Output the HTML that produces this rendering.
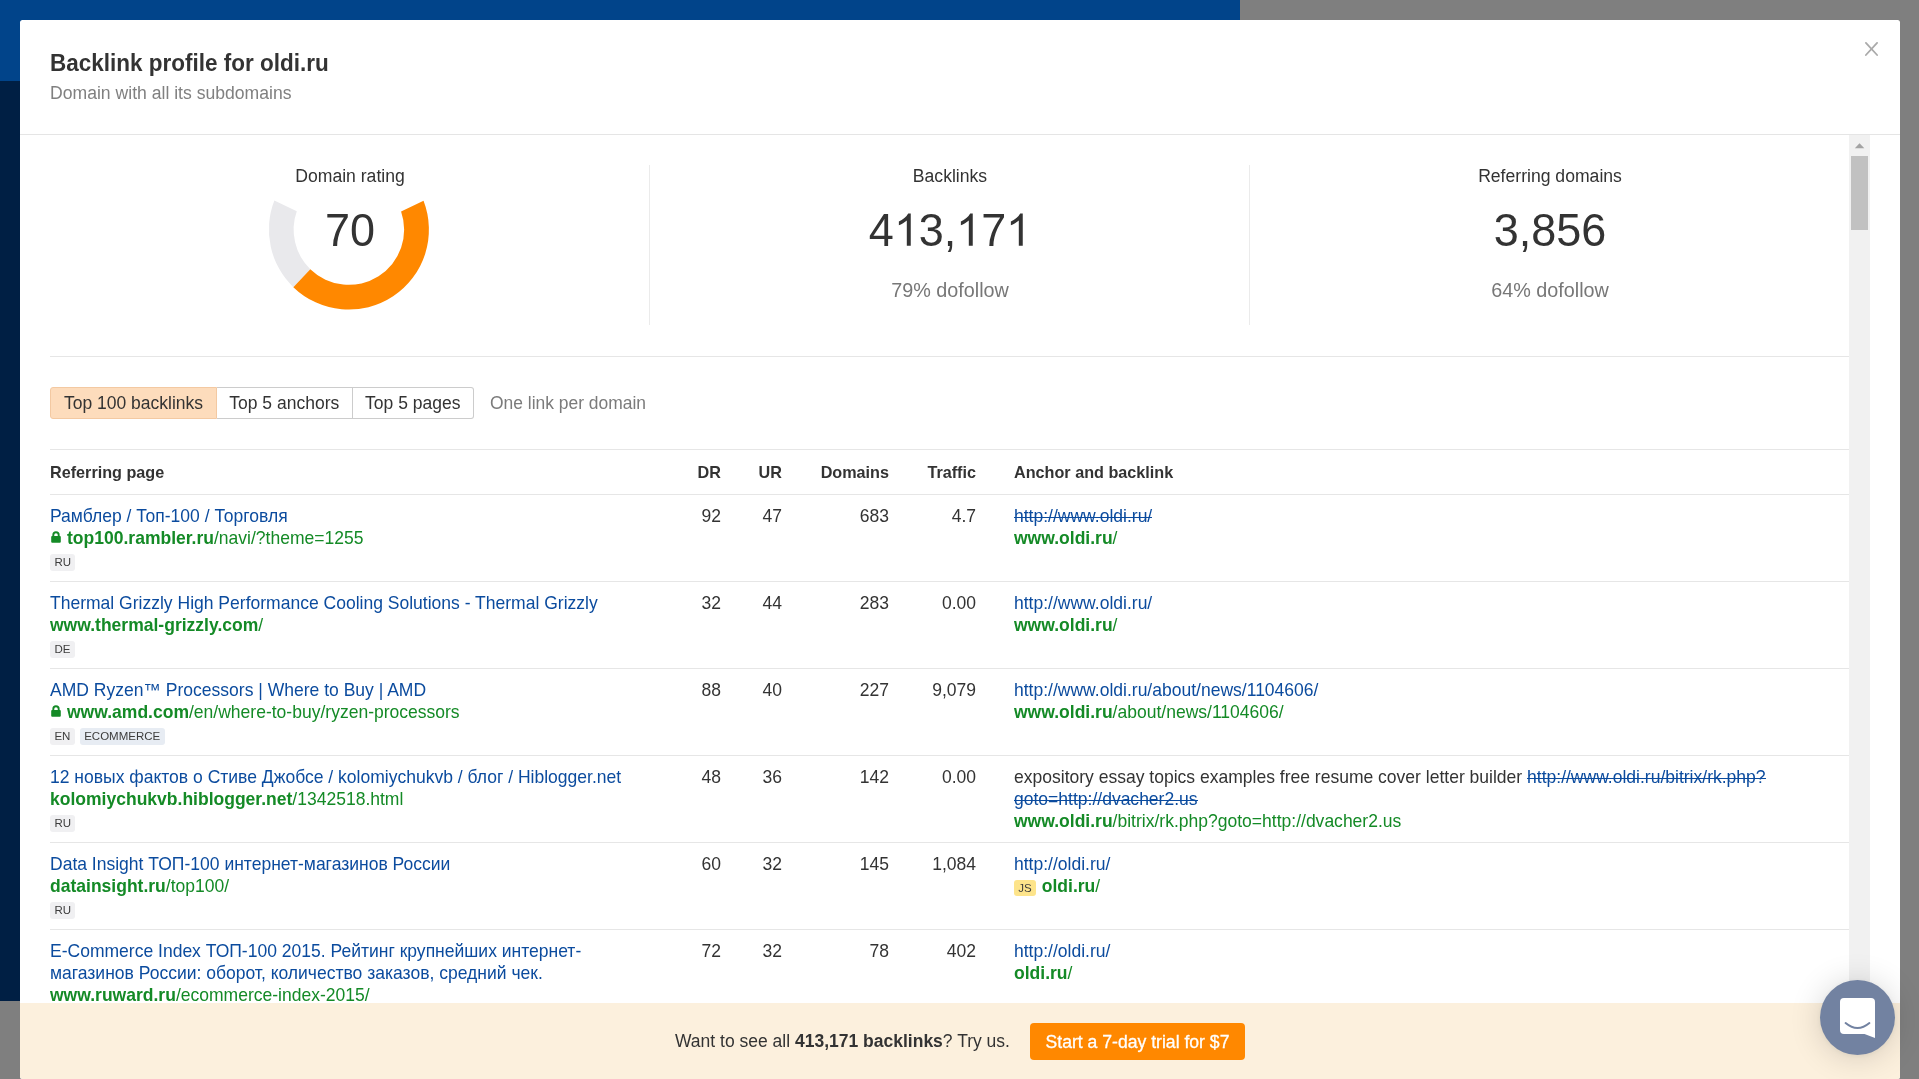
<!DOCTYPE html>
<html><head><meta charset="utf-8">
<style>
*{box-sizing:border-box;margin:0;padding:0}
html,body{width:1919px;height:1079px;overflow:hidden;background:#7f7f7f;font-family:"Liberation Sans",sans-serif;color:#333}
.abs{position:absolute}
#bgblue{left:0;top:0;width:1240px;height:81px;background:#01448a}
#bgnavy{left:0;top:81px;width:1240px;height:920px;background:#001f44}
#modal{left:20px;top:20px;width:1880px;height:1059px;background:#fff;border-radius:2.5px;overflow:hidden}
#hdr{left:0;top:0;width:1880px;height:115px;border-bottom:1px solid #e5e5e5}
#title{left:30px;top:28.8px;font-size:22.5px;line-height:30px;font-weight:bold;color:#333;white-space:nowrap;transform:scaleY(1.04);transform-origin:0 22.8px}
#sub{left:30px;top:61px;font-size:17.6px;line-height:24px;color:#808080;white-space:nowrap}
#close{left:1844px;top:21px;width:16px;height:16px}
/* content coordinates are relative to modal (x-20,y-20) */
.lbl,.num,.sub2{width:600px;text-align:center;white-space:nowrap}
.lbl{top:144.3px;font-size:17.6px;line-height:24px;color:#333}
.num{top:186.2px;font-size:45px;line-height:50px;color:#333}
.num{transform:scaleY(1.04);transform-origin:50% 40.59px}
.one{position:relative;color:transparent}
.one svg{position:absolute;left:0;top:0;width:0.55615em;height:1.1172em}
.sub2{top:258.1px;font-size:19.8px;line-height:24px;color:#777}
.vdiv{top:145px;width:1px;height:160px;background:#ebebeb}
.hline{height:1px;background:#e6e6e6}
#tabs{left:30px;top:367px;height:32px;display:flex;font-size:17.5px;line-height:30px;white-space:nowrap}
#tabs .t{border:1px solid #ccc;border-left:none;text-align:center;color:#333;background:#fff}
#tabs .t:first-child{border-left:1px solid #ccc;border-radius:3px 0 0 3px}
#tabs .t:last-child{border-radius:0 3px 3px 0}
#tabs .t.on{background:#fddcbc;border-color:#f3c9a2}
#onelink{left:470px;top:367px;font-size:17.45px;line-height:32px;color:#7b7b7b;white-space:nowrap}
.th{top:441.8px;font-size:16.2px;line-height:20px;font-weight:bold;color:#333;white-space:nowrap}
.row{left:30px;width:1799px;height:87px;border-bottom:1px solid #e6e6e6;font-size:17.52px;line-height:22px;white-space:nowrap}
.row .c{position:absolute;top:10px}
.row .n{text-align:right;color:#333}
.row .ttl{color:#0b4b9e}
.g{color:#148a26}
.g b{font-weight:bold}
.lock{display:inline-block;width:10px;height:12px;vertical-align:1px;margin-left:1px;margin-right:6px;position:relative}
.badge{display:inline-block;font-size:11.5px;line-height:16.5px;height:16.5px;padding:0 4.4px;background:#f0f0f2;color:#3c3c3c;border-radius:3px;margin-top:5px;vertical-align:top}
.badge.bl{background:#e7ecf3}
.badge.js{background:#fde48b;margin-top:4.5px;margin-right:6px;padding:0 4.2px;vertical-align:top}
.strike{background:linear-gradient(currentColor,currentColor) 0 11.2px/100% 1px no-repeat}
#banner{left:0;top:983px;width:1880px;height:120px;background:#fcf0dd}
#btext{left:655px;top:1009px;font-size:17.5px;line-height:24px;color:#333;white-space:nowrap}
#btn{left:1010px;top:1003px;width:215px;height:37px;background:#ff8800;border-radius:4px;color:#fff;font-size:17.6px;line-height:37px;text-align:center;white-space:nowrap;-webkit-text-stroke:0.3px #fff;padding-top:1px}
#sbtrack{left:1829px;top:115px;width:21px;height:900px;background:#f1f1f1}
#sbthumb{left:1831px;top:136px;width:17px;height:74px;background:#c1c1c1}
#launcher{left:1820px;top:980px;width:75px;height:75px;border-radius:50%;background:#7282a1;box-shadow:0 1px 6px rgba(0,0,0,.06),0 2px 32px rgba(0,0,0,.16)}
#title,#sub,.lbl,.num,.sub2,#tabs,#onelink,.th,.row,#btext,#btn{will-change:transform}
</style></head>
<body>
<div class="abs" id="bgblue"></div>
<div class="abs" id="bgnavy"></div>
<div class="abs" id="modal">
  <div class="abs" id="hdr">
    <div class="abs" id="title">Backlink profile for oldi.ru</div>
    <div class="abs" id="sub">Domain with all its subdomains</div>
    <svg class="abs" id="close" viewBox="0 0 16 16" style="left:1843px;top:21px;width:16px;height:16px"><path d="M2.9 1.9L14.1 14M14.1 1.9L2.9 14" stroke="#aaa" stroke-width="1.8" stroke-linecap="round" fill="none"/></svg>
  </div>

  <!-- stats -->
  <svg class="abs" style="left:0;top:0;width:700px;height:400px" viewBox="20 20 700 400">
    <path d="M274.36 200.54 A80 80 0 0 0 293.33 287.15 L310.31 269.14 A55.25 55.25 0 0 1 296.79 211.25 Z" fill="#e9e9ec"/>
    <path d="M293.33 287.15 A80 80 0 0 0 423.54 200.8 L401.08 211.43 A55.25 55.25 0 0 1 310.31 269.14 Z" fill="#ff8800"/>
  </svg>
  <div class="abs lbl" style="left:30px">Domain rating</div>
  <div class="abs num" style="left:30px">70</div>
  <div class="abs vdiv" style="left:629px"></div>
  <div class="abs lbl" style="left:630px">Backlinks</div>
  <div class="abs num" style="left:630px">4<span class="one">1<svg viewBox="0 0 1139 2288"><path d="M763 1854.0 L583 1854.0 L583 756.4 Q518 815.7 412 875.1 Q306 934.4 222 964.0 L222 797.5 Q373 729.6 486 632.9 Q599 536.3 646 445.4 L763 445.4 Z" fill="#333"/></svg></span>3,<span class="one">1<svg viewBox="0 0 1139 2288"><path d="M763 1854.0 L583 1854.0 L583 756.4 Q518 815.7 412 875.1 Q306 934.4 222 964.0 L222 797.5 Q373 729.6 486 632.9 Q599 536.3 646 445.4 L763 445.4 Z" fill="#333"/></svg></span>7<span class="one">1<svg viewBox="0 0 1139 2288"><path d="M763 1854.0 L583 1854.0 L583 756.4 Q518 815.7 412 875.1 Q306 934.4 222 964.0 L222 797.5 Q373 729.6 486 632.9 Q599 536.3 646 445.4 L763 445.4 Z" fill="#333"/></svg></span></div>
  <div class="abs sub2" style="left:630px">79% dofollow</div>
  <div class="abs vdiv" style="left:1229px"></div>
  <div class="abs lbl" style="left:1230px">Referring domains</div>
  <div class="abs num" style="left:1230px">3,856</div>
  <div class="abs sub2" style="left:1230px">64% dofollow</div>
  <div class="abs hline" style="left:30px;top:336px;width:1799px"></div>

  <!-- tabs -->
  <div class="abs" id="tabs">
    <div class="t on" style="width:167px">Top 100 backlinks</div><div class="t" style="width:135.5px">Top 5 anchors</div><div class="t" style="width:121.5px">Top 5 pages</div>
  </div>
  <div class="abs" id="onelink">One link per domain</div>

  <div class="abs hline" style="left:30px;top:429px;width:1799px"></div>
  <div class="abs th" style="left:30px">Referring page</div>
  <div class="abs th" style="left:650px;width:51px;text-align:right">DR</div>
  <div class="abs th" style="left:700px;width:62px;text-align:right">UR</div>
  <div class="abs th" style="left:760px;width:109px;text-align:right">Domains</div>
  <div class="abs th" style="left:870px;width:86px;text-align:right">Traffic</div>
  <div class="abs th" style="left:994px">Anchor and backlink</div>
  <div class="abs hline" style="left:30px;top:474px;width:1799px"></div>

  <div id="rows">
<div class="abs row" style="top:475px"><div class="c" style="left:0"><div class="ttl">Рамблер / Топ-100 / Торговля</div><div class="g"><svg class="lock" viewBox="0 0 10 12"><path d="M2.3 5.2V3.9A2.7 2.7 0 0 1 7.7 3.9V5.2" stroke="currentColor" stroke-width="1.9" fill="none"/><rect x="0.2" y="5" width="9.6" height="6.8" rx="1" fill="currentColor"/></svg><b>top100.rambler.ru</b>/navi/?theme=1255</div><div style="height:22px"><span class="badge ">RU</span></div></div><div class="c n" style="left:591px;width:80px">92</div><div class="c n" style="left:652px;width:80px">47</div><div class="c n" style="left:759px;width:80px">683</div><div class="c n" style="left:846px;width:80px">4.7</div><div class="c" style="left:964px"><span class="ttl strike">http://www.oldi.ru/</span><br><span class="g"><b>www.oldi.ru</b>/</span></div></div>
<div class="abs row" style="top:562px"><div class="c" style="left:0"><div class="ttl">Thermal Grizzly High Performance Cooling Solutions - Thermal Grizzly</div><div class="g"><b>www.thermal-grizzly.com</b>/</div><div style="height:22px"><span class="badge ">DE</span></div></div><div class="c n" style="left:591px;width:80px">32</div><div class="c n" style="left:652px;width:80px">44</div><div class="c n" style="left:759px;width:80px">283</div><div class="c n" style="left:846px;width:80px">0.00</div><div class="c" style="left:964px"><span class="ttl">http://www.oldi.ru/</span><br><span class="g"><b>www.oldi.ru</b>/</span></div></div>
<div class="abs row" style="top:649px"><div class="c" style="left:0"><div class="ttl">AMD Ryzen™ Processors | Where to Buy | AMD</div><div class="g"><svg class="lock" viewBox="0 0 10 12"><path d="M2.3 5.2V3.9A2.7 2.7 0 0 1 7.7 3.9V5.2" stroke="currentColor" stroke-width="1.9" fill="none"/><rect x="0.2" y="5" width="9.6" height="6.8" rx="1" fill="currentColor"/></svg><b>www.amd.com</b>/en/where-to-buy/ryzen-processors</div><div style="height:22px"><span class="badge ">EN</span><span class="badge bl" style="margin-left:5px">ECOMMERCE</span></div></div><div class="c n" style="left:591px;width:80px">88</div><div class="c n" style="left:652px;width:80px">40</div><div class="c n" style="left:759px;width:80px">227</div><div class="c n" style="left:846px;width:80px">9,079</div><div class="c" style="left:964px"><span class="ttl">http://www.oldi.ru/about/news/1104606/</span><br><span class="g"><b>www.oldi.ru</b>/about/news/1104606/</span></div></div>
<div class="abs row" style="top:736px"><div class="c" style="left:0"><div class="ttl">12 новых фактов о Стиве Джобсе / kolomiychukvb / блог / Hiblogger.net</div><div class="g"><b>kolomiychukvb.hiblogger.net</b>/1342518.html</div><div style="height:22px"><span class="badge ">RU</span></div></div><div class="c n" style="left:591px;width:80px">48</div><div class="c n" style="left:652px;width:80px">36</div><div class="c n" style="left:759px;width:80px">142</div><div class="c n" style="left:846px;width:80px">0.00</div><div class="c" style="left:964px">expository essay topics examples free resume cover letter builder <span class="ttl strike">http://www.oldi.ru/bitrix/rk.php?</span><br><span class="ttl strike">goto=http://dvacher2.us</span><br><span class="g"><b>www.oldi.ru</b>/bitrix/rk.php?goto=http://dvacher2.us</span></div></div>
<div class="abs row" style="top:823px"><div class="c" style="left:0"><div class="ttl">Data Insight ТОП-100 интернет-магазинов России</div><div class="g"><b>datainsight.ru</b>/top100/</div><div style="height:22px"><span class="badge ">RU</span></div></div><div class="c n" style="left:591px;width:80px">60</div><div class="c n" style="left:652px;width:80px">32</div><div class="c n" style="left:759px;width:80px">145</div><div class="c n" style="left:846px;width:80px">1,084</div><div class="c" style="left:964px"><span class="ttl">http://oldi.ru/</span><br><span class="badge js">JS</span><span class="g"><b>oldi.ru</b>/</span></div></div>
<div class="abs row" style="top:910px"><div class="c" style="left:0"><div class="ttl">E-Commerce Index ТОП-100 2015. Рейтинг крупнейших интернет-<br>магазинов России: оборот, количество заказов, средний чек.</div><div class="g"><b>www.ruward.ru</b>/ecommerce-index-2015/</div></div><div class="c n" style="left:591px;width:80px">72</div><div class="c n" style="left:652px;width:80px">32</div><div class="c n" style="left:759px;width:80px">78</div><div class="c n" style="left:846px;width:80px">402</div><div class="c" style="left:964px"><span class="ttl">http://oldi.ru/</span><br><span class="g"><b>oldi.ru</b>/</span></div></div>
<!--/rows--></div>

  <div class="abs" id="sbtrack"></div>
  <svg class="abs" style="left:1834px;top:123px;width:11px;height:6px" viewBox="0 0 11 6"><path d="M0.8 5.3L5.55 0.3L10.3 5.3Z" fill="#a3a3a3"/></svg>
  <div class="abs" id="sbthumb"></div>

  <div class="abs" id="banner"></div>
  <div class="abs" id="btext">Want to see all <b>413,171 backlinks</b>? Try us.</div>
  <div class="abs" id="btn">Start a 7-day trial for $7</div>
</div>
<div class="abs" id="launcher">
  <svg class="abs" style="left:0;top:0;width:75px;height:75px" viewBox="1820 980 75 75">
    <path d="M1844 998H1871Q1875 998 1875 1002V1038L1864.5 1034H1844Q1840 1034 1840 1030V1002Q1840 998 1844 998Z" fill="#fff"/>
    <path d="M1845.6 1023.1Q1857.5 1033 1869.4 1023.1" stroke="#7282a1" stroke-width="2" fill="none" stroke-linecap="round"/>
  </svg>
</div>
</body></html>
